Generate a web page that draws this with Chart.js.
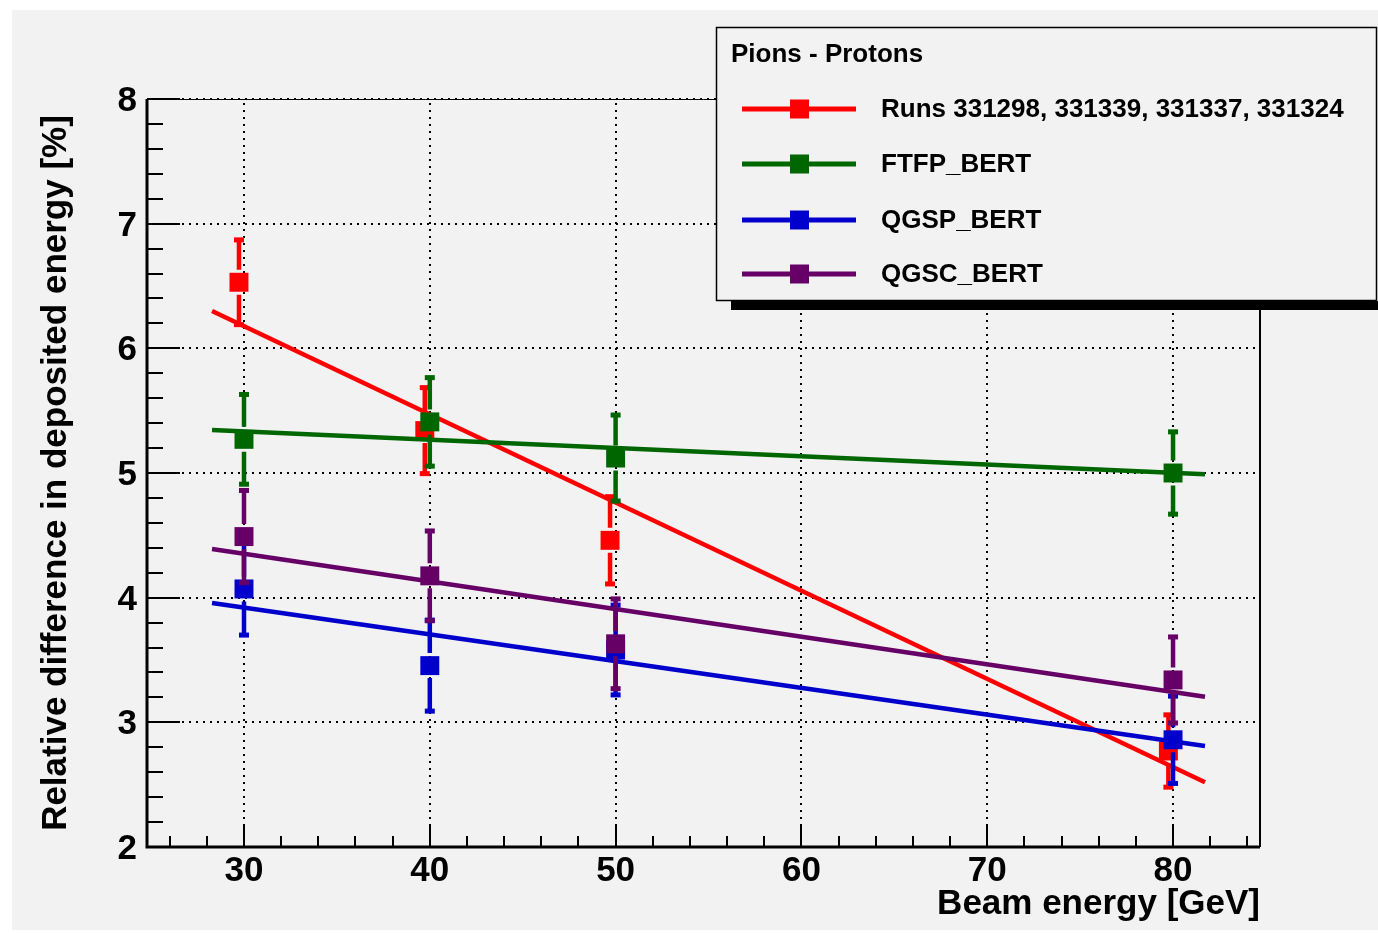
<!DOCTYPE html>
<html>
<head>
<meta charset="utf-8">
<script src="https://cdn.jsdelivr.net/npm/chart.js@4.4.0/dist/chart.umd.min.js"></script>
<style>
  html, body { margin: 0; padding: 0; background: #fff; }
</style>
</head>
<body>
<canvas id="myChart" width="1378" height="933"></canvas>
<script>
const seriesNames = ["Runs 331298, 331339, 331337, 331324", "FTFP_BERT", "QGSP_BERT", "QGSC_BERT"]
const seriesColors = ["#ff0000", "#006600", "#0000cc", "#660066"]

// data points (red runs are drawn a little to the left of the nominal energy)
const runEnergy = [29.73, 39.73, 49.7, 79.75]
const modelEnergy = [30, 40, 50, 80]
const runValues = [6.53, 5.34, 4.46, 2.77]
const runErrors = [0.34, 0.345, 0.35, 0.29]
const ftfpValues = [5.27, 5.41, 5.12, 5.0]
const ftfpErrors = [0.36, 0.355, 0.345, 0.33]
const qgspValues = [4.07, 3.455, 3.58, 2.86]
const qgspErrors = [0.37, 0.365, 0.36, 0.35]
const qgscValues = [4.49, 4.175, 3.63, 3.34]
const qgscErrors = [0.37, 0.36, 0.36, 0.345]

// linear fits, start and end
const fitEnergy = [28.28, 81.72]
const runFit = [6.30, 2.52]
const ftfpFit = [5.345, 4.99]
const qgspFit = [3.957, 2.81]
const qgscFit = [4.39, 3.206]

const xTicks = [30, 40, 50, 60, 70, 80]
const yTicks = [2, 3, 4, 5, 6, 7, 8]
const xMinor = 2
const yMinor = 0.2

const FONT = "'Liberation Sans', Arial, Helvetica, sans-serif"

const pointSets = [
  [runEnergy, runValues, runErrors],
  [modelEnergy, ftfpValues, ftfpErrors],
  [modelEnergy, qgspValues, qgspErrors],
  [modelEnergy, qgscValues, qgscErrors]
]
const fitSets = [runFit, ftfpFit, qgspFit, qgscFit]

// draw order: red first ... purple last (on top)
let drawSeq = []
pointSets.forEach(function(s, i) {
  drawSeq.push({
    label: seriesNames[i],
    data: s[0].map((x, j) => ({ x: x, y: s[1][j] })),
    errors: s[2],
    showLine: false,
    pointStyle: "rect",
    pointRadius: 13.4,
    pointBorderWidth: 0,
    backgroundColor: seriesColors[i],
    borderColor: seriesColors[i]
  })
  drawSeq.push({
    label: seriesNames[i] + " fit",
    data: fitEnergy.map((x, j) => ({ x: x, y: fitSets[i][j] })),
    showLine: true,
    pointRadius: 0,
    borderWidth: 4.5,
    borderColor: seriesColors[i],
    backgroundColor: seriesColors[i]
  })
})
const datasets = drawSeq.reverse()

const background = {
  id: "background",
  beforeDraw(chart) {
    const ctx = chart.ctx
    ctx.save()
    ctx.fillStyle = "#ffffff"
    ctx.fillRect(0, 0, chart.width, chart.height)
    ctx.fillStyle = "#f2f2f2"
    ctx.fillRect(12, 10, chart.width - 12, 920)
    ctx.restore()
  }
}

const frame = {
  id: "frame",
  beforeDatasetsDraw(chart) {
    const ctx = chart.ctx
    const a = chart.chartArea
    const xs = chart.scales.x, ys = chart.scales.y
    ctx.save()
    // dotted grid
    ctx.strokeStyle = "#000"
    ctx.lineWidth = 2
    ctx.setLineDash([2, 5])
    xTicks.forEach(function(v) {
      const px = Math.round(xs.getPixelForValue(v))
      ctx.beginPath(); ctx.moveTo(px, a.bottom); ctx.lineTo(px, a.top); ctx.stroke()
    })
    yTicks.forEach(function(v) {
      const py = Math.round(ys.getPixelForValue(v))
      ctx.beginPath(); ctx.moveTo(a.left, py); ctx.lineTo(a.right, py); ctx.stroke()
    })
    ctx.setLineDash([])
    // ticks
    ctx.lineWidth = 2
    for (let v = 26; v <= 84.001; v += xMinor) {
      const px = Math.round(xs.getPixelForValue(v))
      const major = xTicks.indexOf(Math.round(v)) >= 0
      ctx.beginPath(); ctx.moveTo(px, a.bottom); ctx.lineTo(px, a.bottom - (major ? 22 : 11)); ctx.stroke()
    }
    for (let v = 2; v <= 8.001; v += yMinor) {
      const py = Math.round(ys.getPixelForValue(v))
      const major = Math.abs(v - Math.round(v)) < 0.01
      ctx.beginPath(); ctx.moveTo(a.left, py); ctx.lineTo(a.left + (major ? 33 : 16), py); ctx.stroke()
    }
    // frame
    ctx.lineWidth = 1
    ctx.beginPath(); ctx.moveTo(a.left, a.top + 0.5); ctx.lineTo(a.right, a.top + 0.5); ctx.stroke()
    ctx.lineWidth = 2
    ctx.beginPath(); ctx.moveTo(a.right, a.top); ctx.lineTo(a.right, a.bottom); ctx.stroke()
    ctx.lineWidth = 3
    ctx.beginPath(); ctx.moveTo(a.left, a.top); ctx.lineTo(a.left, a.bottom); ctx.lineTo(a.right, a.bottom); ctx.stroke()
    ctx.restore()
  }
}

const errorBars = {
  id: "errorBars",
  beforeDatasetDraw(chart, args) {
    const ds = chart.data.datasets[args.index]
    if (!ds.errors) return
    const ctx = chart.ctx
    const xs = chart.scales.x, ys = chart.scales.y
    ctx.save()
    ctx.strokeStyle = ds.borderColor
    ctx.fillStyle = ds.borderColor
    ctx.lineWidth = 4.5
    ds.data.forEach(function(p, j) {
      const px = xs.getPixelForValue(p.x)
      const pc = ys.getPixelForValue(p.y)
      const pt = ys.getPixelForValue(p.y + ds.errors[j])
      const pb = ys.getPixelForValue(p.y - ds.errors[j])
      ctx.beginPath()
      ctx.moveTo(px, pc - 12.5); ctx.lineTo(px, pt)
      ctx.moveTo(px, pc + 12.5); ctx.lineTo(px, pb)
      ctx.stroke()
      ctx.fillRect(px - 5, pt - 2.5, 10, 5)
      ctx.fillRect(px - 5, pb - 2.5, 10, 5)
    })
    ctx.restore()
  }
}

const legendBox = {
  id: "legendBox",
  afterDraw(chart) {
    const ctx = chart.ctx
    ctx.save()
    ctx.fillStyle = "#000"
    ctx.fillRect(731, 301, chart.width - 731, 9)
    ctx.fillStyle = "#f2f2f2"
    ctx.fillRect(716, 27, 661, 274)
    ctx.strokeStyle = "#000"
    ctx.lineWidth = 1.5
    ctx.strokeRect(716.5, 27.5, 660, 273)
    ctx.fillStyle = "#000"
    ctx.font = "bold 26px " + FONT
    ctx.textBaseline = "middle"
    ctx.fillText("Pions - Protons", 731, 55)
    const rows = [109, 164, 220, 274]
    seriesNames.forEach(function(name, i) {
      const y = rows[i]
      ctx.strokeStyle = seriesColors[i]
      ctx.lineWidth = 5
      ctx.beginPath(); ctx.moveTo(742, y); ctx.lineTo(856, y); ctx.stroke()
      ctx.fillStyle = seriesColors[i]
      ctx.fillRect(790, y - 9.5, 19, 19)
      ctx.fillStyle = "#000"
      ctx.fillText(name, 881, y + 1)
    })
    ctx.restore()
  }
}

const tickFont = { family: FONT, size: 35, weight: "bold" }

const ctx = document.getElementById("myChart")
const myChart = new Chart(ctx, {
  type: "scatter",
  data: { datasets: datasets },
  options: {
    responsive: false,
    animation: false,
    layout: { padding: { top: 99, right: 118, left: 0, bottom: 0 } },
    plugins: {
      legend: { display: false },
      tooltip: { enabled: false }
    },
    scales: {
      x: {
        type: "linear",
        min: 24.78,
        max: 84.68,
        afterBuildTicks: function(s) { s.ticks = xTicks.map(v => ({ value: v })) },
        afterFit: function(s) { s.height = 86 },
        grid: { display: false, drawTicks: false },
        border: { display: false },
        ticks: { padding: 3, font: tickFont, color: "#000", maxRotation: 0, autoSkip: false },
        title: {
          display: true,
          text: "Beam energy [GeV]",
          align: "end",
          color: "#000",
          font: tickFont,
          padding: { top: 0, bottom: 8 }
        }
      },
      y: {
        type: "linear",
        min: 2,
        max: 8,
        afterBuildTicks: function(s) { s.ticks = yTicks.map(v => ({ value: v })) },
        afterFit: function(s) { s.width = 147 },
        grid: { display: false, drawTicks: false },
        border: { display: false },
        ticks: { padding: 10, labelOffset: 2.5, font: tickFont, color: "#000", autoSkip: false },
        title: {
          display: true,
          text: "Relative difference in deposited energy [%]",
          color: "#000",
          font: tickFont,
          padding: { top: 35, bottom: 0 }
        }
      }
    }
  },
  plugins: [background, frame, errorBars, legendBox]
})
</script>
</body>
</html>
